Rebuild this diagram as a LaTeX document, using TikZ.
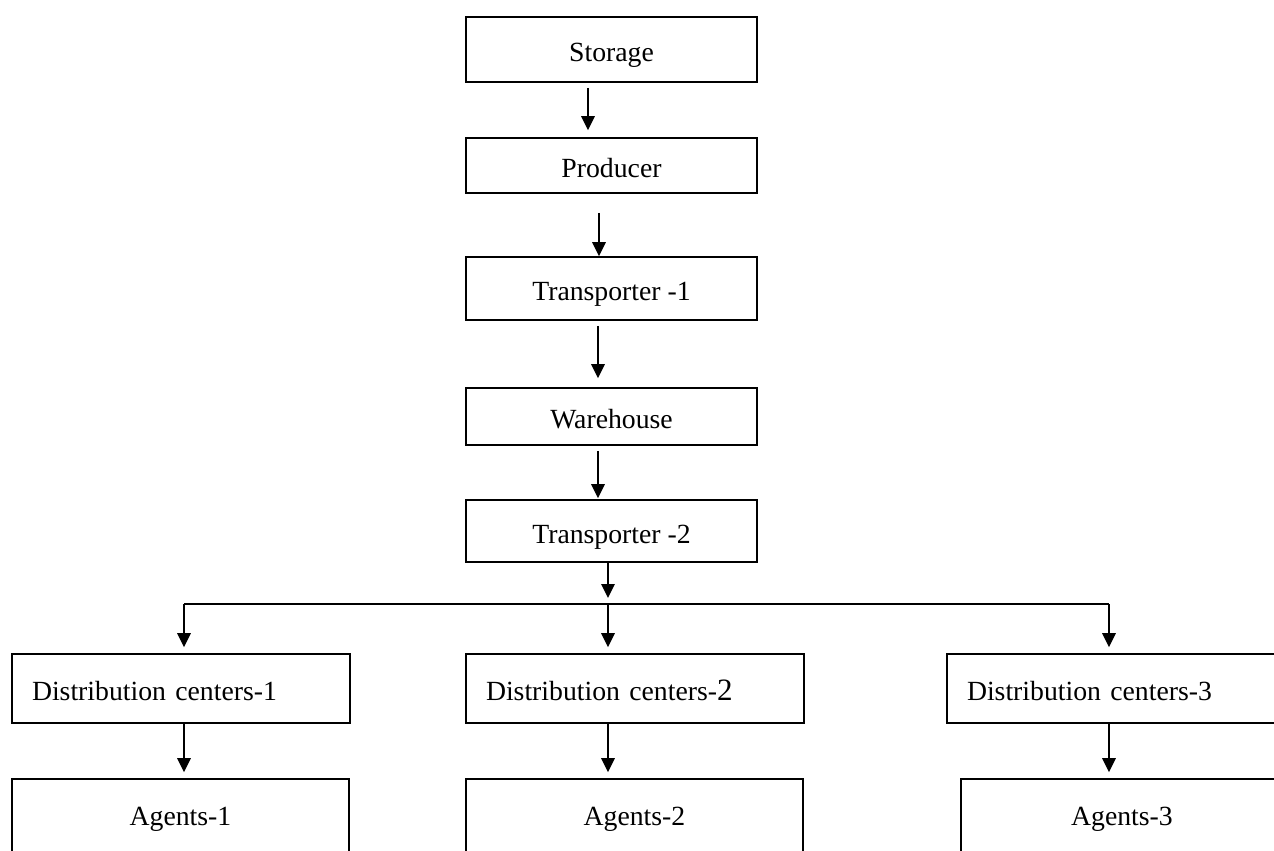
\documentclass[tikz,border=0pt]{standalone}
\usepackage{fontspec}
\setmainfont{Liberation Serif}
\usetikzlibrary{arrows.meta,calc}
\def\pxu{*0.75pt}
\begin{document}
\begin{tikzpicture}[x=0.75pt,y=-0.75pt,
  font=\fontsize{20.8}{25}\selectfont,
  box/.style={draw, line width=1.2pt, rectangle, inner sep=0pt,
    text height=30\pxu, text depth=6\pxu},
  midbox/.style={box, minimum width=291\pxu},
  dcbox/.style={box, minimum width=338\pxu, minimum height=69\pxu,
    inner xsep=20\pxu, text width=298\pxu, align=left},
  agbox/.style={box, minimum height=110\pxu, text height=20\pxu, text depth=38\pxu},
  arr/.style={line width=1.2pt, -{Triangle[width=13.5\pxu,length=14\pxu]}},
  bus/.style={line width=1.2pt}]
\useasboundingbox (0,0) rectangle (1274,850);
\clip (0,0) rectangle (1274,850);
\fill[white] (0,0) rectangle (1274,850);

% main column
\node[midbox, minimum height=65\pxu] (storage)   at (611.5,49.5)  {Storage};
\node[midbox, minimum height=55\pxu] (producer)  at (611.5,165.5) {Producer};
\node[midbox, minimum height=63\pxu] (trans1)    at (611.5,288.5) {Transporter -1};
\node[midbox, minimum height=57\pxu] (warehouse) at (611.5,416.5) {Warehouse};
\node[midbox, minimum height=62\pxu] (trans2)    at (611.5,531)   {Transporter -2};

% distribution centers
\node[dcbox] (dc1) at (181,688.5) {Distribution centers-1};
\node[dcbox] (dc2) at (635,688.5) {Distribution centers-{\fontsize{23.3}{25}\selectfont 2}};
\node[dcbox] (dc3) at (1116,688.5) {Distribution centers-3};

% agents
\node[agbox, minimum width=337\pxu] (ag1) at (180.5,834) {Agents-1};
\node[agbox, minimum width=337\pxu] (ag2) at (634.5,834) {Agents-2};
\node[agbox, minimum width=322\pxu] (ag3) at (1122,834) {Agents-3};

% main column arrows
\draw[arr] ($(storage.south)+(-23.5,5)$) -- ($(producer.north)+(-23.5,-7)$);
\draw[arr] ($(producer.south)+(-12.5,19)$) -- ($(trans1.north)+(-12.5,0)$);
\draw[arr] ($(trans1.south)+(-13.5,5)$) -- ($(warehouse.north)+(-13.5,-9)$);
\draw[arr] ($(warehouse.south)+(-13.5,5)$) -- ($(trans2.north)+(-13.5,-1)$);

% bus
\coordinate (b1) at (184,604);
\coordinate (b2) at (608,604);
\coordinate (b3) at (1109,604);
\draw[arr] (b2 |- trans2.south) -- ($(b2)+(0,-6)$);
\draw[bus] (b1) -- (b3);
\draw[arr] (b1) -- ($(b1 |- dc1.north)+(0,-6)$);
\draw[arr] (b2) -- ($(b2 |- dc2.north)+(0,-6)$);
\draw[arr] (b3) -- ($(b3 |- dc3.north)+(0,-6)$);

% dc to agents
\draw[arr] (b1 |- dc1.south) -- ($(b1 |- ag1.north)+(0,-6)$);
\draw[arr] (b2 |- dc2.south) -- ($(b2 |- ag2.north)+(0,-6)$);
\draw[arr] (b3 |- dc3.south) -- ($(b3 |- ag3.north)+(0,-6)$);
\end{tikzpicture}
\end{document}
